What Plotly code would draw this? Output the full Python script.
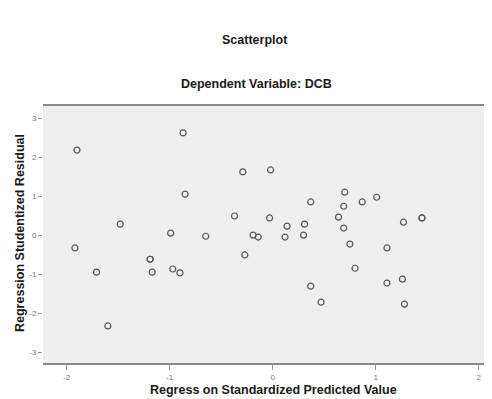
import plotly.graph_objects as go

# Standardized predicted values (x) and studentized residuals (y)
pred = [-1.90, -0.87, -0.29, -0.85, -0.37, -1.48, -0.99, -0.65, -1.92, -0.27,
        -1.19, -1.71, -1.17, -0.97, -0.90, -1.60,
        -0.02, 0.70, 1.01, 0.37, 0.69, 0.87, 0.64, -0.03, 1.45, 1.27,
        0.14, 0.31, 0.69, -0.19, -0.14, 0.12, 0.30, 0.75, 1.11, 0.80,
        0.37, 1.11, 1.26, 0.47, 1.28, -1.19, 1.45]
resid = [2.18, 2.62, 1.62, 1.05, 0.49, 0.28, 0.05, -0.03, -0.33, -0.51,
         -0.62, -0.95, -0.95, -0.87, -0.97, -2.33,
         1.67, 1.10, 0.97, 0.85, 0.74, 0.85, 0.46, 0.44, 0.44, 0.33,
         0.23, 0.28, 0.18, 0.00, -0.05, -0.05, 0.00, -0.23, -0.33, -0.85,
         -1.31, -1.23, -1.13, -1.72, -1.77, -0.62, 0.44]

x_ticks = [-2, -1, 0, 1, 2]
y_ticks = [-3, -2, -1, 0, 1, 2, 3]

fig = go.Figure()
fig.add_trace(go.Scatter(
    x=pred, y=resid, mode="markers",
    marker=dict(symbol="circle-open", size=6, color="#555555", line=dict(width=1.2)),
    showlegend=False, hoverinfo="skip",
))

FONT = "Liberation Sans, Arial, sans-serif"
axis_font = dict(family=FONT, size=8, color="#777777")
# page body has an 8px default margin, so the figure is sized to fill the 492x399 window
fig.update_layout(
    width=484, height=391,
    margin=dict(l=35, r=0, t=98, b=36),
    paper_bgcolor="white", plot_bgcolor="#efefef",
    xaxis=dict(range=[-2.23, 2.13], tickvals=x_ticks, ticktext=[str(v) for v in x_ticks],
               showgrid=False, zeroline=False, ticks="outside", ticklen=5, tickcolor="#999999",
               tickfont=axis_font, showline=True, linecolor="#8a8a8a", linewidth=2, mirror=True),
    yaxis=dict(range=[-3.28, 3.31], tickvals=y_ticks, ticktext=[str(v) for v in y_ticks],
               showgrid=False, zeroline=False, ticks="outside", ticklen=4, tickcolor="#999999",
               tickfont=axis_font, showline=False),
    font=dict(family=FONT, color="#222222"),
)

# paper coords: plot area spans px 43..492 (x) and 106..363 (y) in the window
def px_x(px):
    return (px - 43) / 449.0

def px_y(py):
    return (363 - py) / 257.0

annos = [
    ("<b>Scatterplot</b>", 255, 40, 12.5, 0),
    ("<b>Dependent Variable: DCB</b>", 256, 84, 12.5, 0),
    ("<b>Regress on Standardized Predicted Value</b>", 273, 390, 12.5, 0),
    ("<b>Regression Studentized Residual</b>", 20, 233, 12.5, -90),
]
for text, x, y, size, ang in annos:
    fig.add_annotation(text=text, x=px_x(x), y=px_y(y), xref="paper", yref="paper",
                       showarrow=False, xanchor="center", yanchor="middle", textangle=ang,
                       font=dict(size=size, color="#1a1a1a"))

fig.write_html("out.html")
